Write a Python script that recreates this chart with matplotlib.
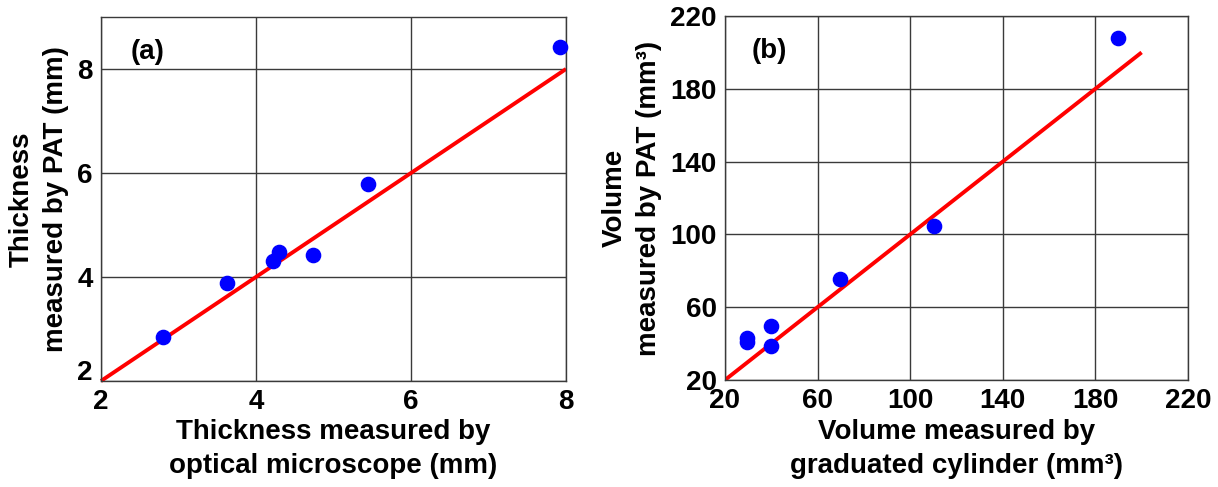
import numpy as np
import matplotlib
matplotlib.use("Agg")
import matplotlib.pyplot as plt
import matplotlib.transforms as mtransforms

# panel (a): thickness, optical microscope vs PAT
thick_micro = [2.80, 3.63, 4.22, 4.30, 4.74, 5.44, 7.92]
thick_pat = [2.85, 3.88, 4.30, 4.49, 4.42, 5.78, 8.43]
thick_ref = [2, 8]

# panel (b): volume, graduated cylinder vs PAT
vol_cyl = [29.7, 29.7, 39.8, 39.8, 69.9, 110.1, 190.0]
vol_pat = [41.0, 43.2, 49.9, 38.7, 75.5, 104.7, 207.9]
vol_ref = [20, 200]

plt.rcParams['font.family'] = ['Liberation Sans', 'DejaVu Sans']
plt.rcParams['font.weight'] = 'bold'

fig = plt.figure(figsize=(12.18, 4.87), dpi=100)
ax1 = fig.add_axes([0.0829, 0.2177, 0.3818, 0.7474])
ax2 = fig.add_axes([0.5952, 0.2197, 0.3801, 0.7474])

gcol = '#3a3a3a'

def style(ax):
    ax.grid(True, color=gcol, linewidth=1.0)
    ax.set_axisbelow(True)
    for s in ax.spines.values():
        s.set_color(gcol)
        s.set_linewidth(1.0)
    ax.tick_params(length=0, labelsize=20, pad=6)
    for lab in ax.get_xticklabels() + ax.get_yticklabels():
        lab.set_fontweight('bold')

# (a)
ax1.plot(thick_ref, thick_ref, color='#ff0000', linewidth=2.8, zorder=2,
         solid_capstyle='butt', clip_on=False)
ax1.scatter(thick_micro, thick_pat, s=105, color='#0000ff', zorder=3, clip_on=False)
ax1.set_xlim(2, 8)
ax1.set_ylim(2, 9)
ax1.set_xticks([2, 4, 6, 8])
ax1.set_yticks([2, 4, 6, 8])
style(ax1)
ax1.text(0.10, 0.905, '(a)', transform=ax1.transAxes, fontsize=20,
         fontweight='bold', ha='center', va='center')
ax1.set_xlabel('Thickness measured by\noptical microscope (mm)',
               fontsize=20, fontweight='bold', labelpad=3, linespacing=1.4)
ax1.set_ylabel('Thickness\nmeasured by PAT (mm)', fontsize=20,
               fontweight='bold', labelpad=6, linespacing=1.4)
# bottom "2" sits a little above the axis line in the original
fig.canvas.draw()
lab2 = ax1.get_yticklabels()[0]
lab2.set_transform(lab2.get_transform() +
                   mtransforms.ScaledTranslation(0, 8 / 72, fig.dpi_scale_trans))

# (b)
ax2.plot(vol_ref, vol_ref, color='#ff0000', linewidth=2.8, zorder=2,
         solid_capstyle='butt')
ax2.scatter(vol_cyl, vol_pat, s=105, color='#0000ff', zorder=3)
ax2.set_xlim(20, 220)
ax2.set_ylim(20, 220)
ax2.set_xticks([20, 60, 100, 140, 180, 220])
ax2.set_yticks([20, 60, 100, 140, 180, 220])
style(ax2)
ax2.text(0.095, 0.905, '(b)', transform=ax2.transAxes, fontsize=20,
         fontweight='bold', ha='center', va='center')
ax2.set_xlabel('Volume measured by\ngraduated cylinder (mm³)',
               fontsize=20, fontweight='bold', labelpad=3, linespacing=1.4)
ax2.set_ylabel('Volume\nmeasured by PAT (mm³)', fontsize=20,
               fontweight='bold', labelpad=6, linespacing=1.4)

fig.savefig('out.png', dpi=100)
